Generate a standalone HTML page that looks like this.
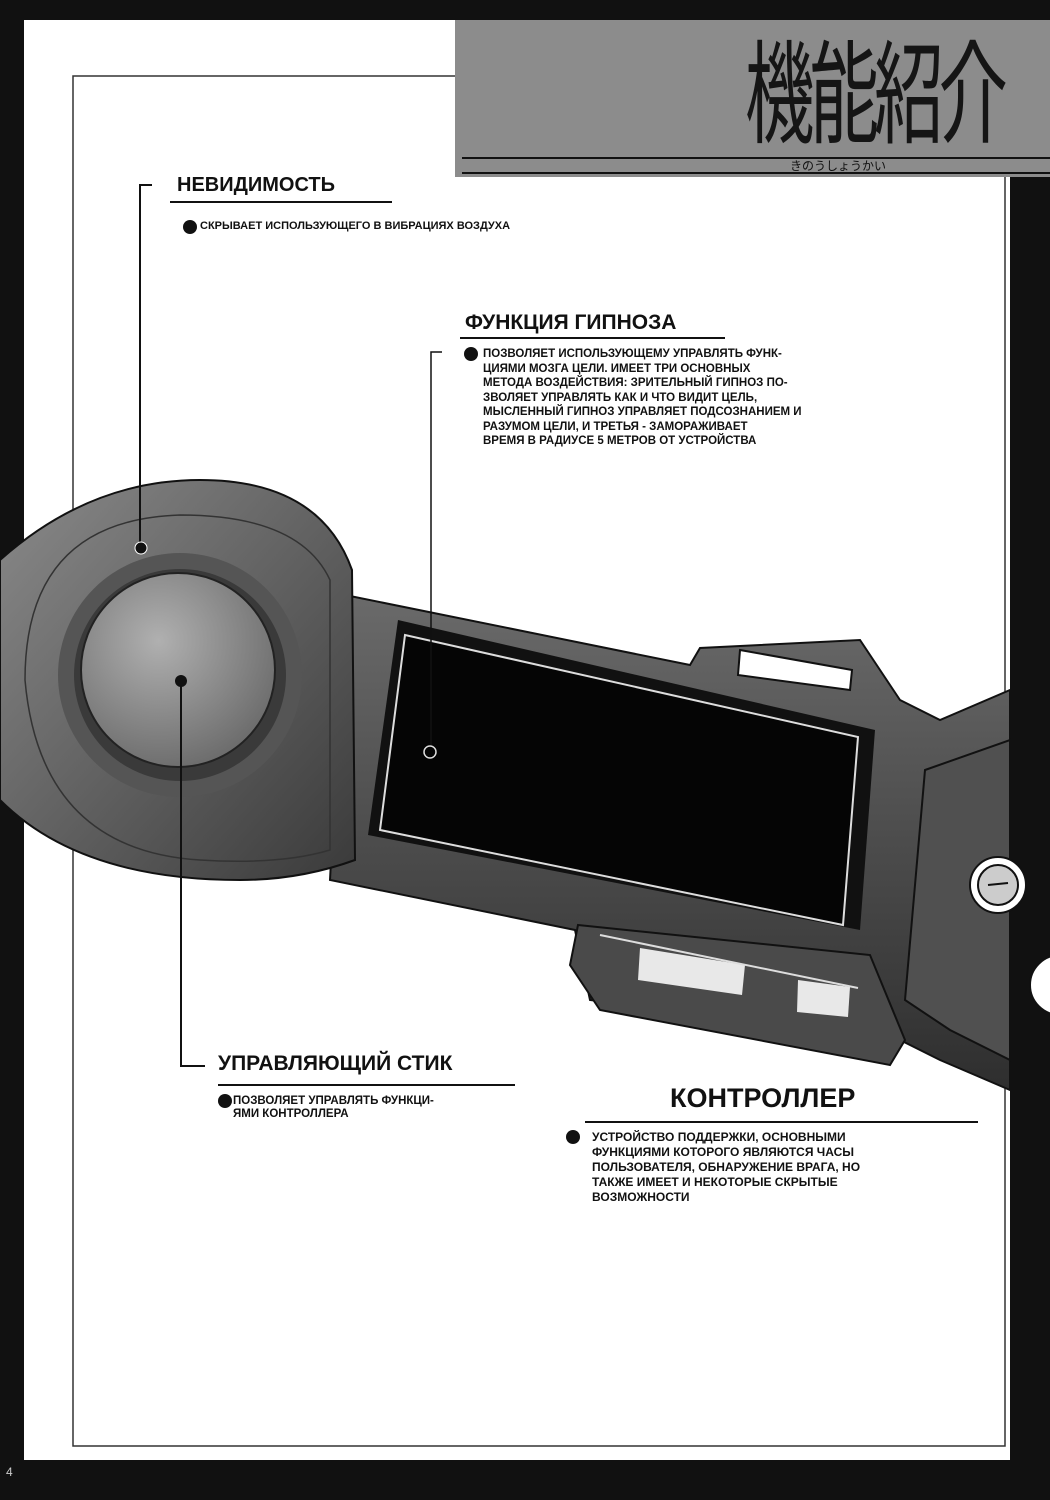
<!DOCTYPE html>
<html><head><meta charset="utf-8"><style>
body{margin:0;width:1050px;height:1500px;background:#111;position:relative;overflow:hidden;font-family:"Liberation Sans","Noto Sans CJK JP",sans-serif}
.t{position:absolute;color:#111;font-weight:bold;text-transform:uppercase;line-height:1}
</style></head><body>
<svg width="1050" height="1500" style="position:absolute;left:0;top:0">
<defs>
<linearGradient id="g1" x1="0" y1="0" x2="1" y2="1"><stop offset="0" stop-color="#8a8a8a"/><stop offset="1" stop-color="#3a3a3a"/></linearGradient>
<linearGradient id="g2" x1="0" y1="0" x2="0" y2="1"><stop offset="0" stop-color="#6a6a6a"/><stop offset="1" stop-color="#2e2e2e"/></linearGradient>
<radialGradient id="g3" cx="0.4" cy="0.35" r="0.7"><stop offset="0" stop-color="#b0b0b0"/><stop offset="1" stop-color="#6a6a6a"/></radialGradient>
</defs>
<rect x="24" y="20" width="990" height="1440" fill="#fff"/>
<rect x="1010" y="175" width="40" height="1300" fill="#111"/>
<rect x="455" y="20" width="595" height="157" fill="#8c8c8c"/>
<line x1="462" y1="158" x2="1050" y2="158" stroke="#111" stroke-width="2"/>
<line x1="462" y1="173" x2="1050" y2="173" stroke="#111" stroke-width="2"/>
<polyline points="455,76 73,76 73,1446 1005,1446 1005,177" fill="none" stroke="#333" stroke-width="1.5"/>
<polygon points="345,595 690,665 700,648 860,640 900,700 940,720 1010,690 1010,1090 940,1060 900,1040 590,1000 575,930 330,880" fill="url(#g2)" stroke="#111" stroke-width="2"/>
<polygon points="740,650 852,670 850,690 738,675" fill="#fff" stroke="#111" stroke-width="2"/>
<polygon points="925,770 1010,740 1010,1060 950,1030 905,1000" fill="#505050" stroke="#111" stroke-width="2"/>
<circle cx="998" cy="885" r="28" fill="#fff" stroke="#111" stroke-width="2"/>
<circle cx="998" cy="885" r="20" fill="#ccc" stroke="#111" stroke-width="2"/>
<line x1="988" y1="885" x2="1008" y2="883" stroke="#111" stroke-width="2"/>
<circle cx="1060" cy="985" r="30" fill="#fff" stroke="#111" stroke-width="2"/>
<polygon points="398,620 875,730 860,930 368,835" fill="#111"/>
<polygon points="405,635 858,737 843,925 380,830" fill="#050505" stroke="#ddd" stroke-width="2"/>
<polygon points="578,925 870,955 905,1040 890,1065 600,1010 570,965" fill="#4a4a4a" stroke="#111" stroke-width="2"/>
<polygon points="640,948 745,965 742,995 638,980" fill="#e8e8e8"/>
<polygon points="798,980 850,987 848,1017 797,1012" fill="#e8e8e8"/>
<line x1="600" y1="935" x2="858" y2="988" stroke="#ddd" stroke-width="2"/>
<path d="M 0,560 Q 90,480 200,480 Q 320,480 352,570 L 355,860 Q 300,880 240,880 Q 80,880 0,800 Z" fill="url(#g1)" stroke="#111" stroke-width="2"/>
<path d="M 25,680 Q 25,520 180,515 Q 300,515 330,580 L 330,850 Q 280,865 200,860 Q 40,850 25,680 Z" fill="none" stroke="#333" stroke-width="1.5"/>
<circle cx="180" cy="675" r="122" fill="#555"/>
<circle cx="180" cy="675" r="106" fill="#3a3a3a"/>
<circle cx="178" cy="670" r="97" fill="url(#g3)" stroke="#222" stroke-width="2"/>
<polyline points="152,185 140,185 140,548" fill="none" stroke="#111" stroke-width="2"/>
<circle cx="141" cy="548" r="6" fill="#111" stroke="#fff" stroke-width="1"/>
<line x1="170" y1="202" x2="392" y2="202" stroke="#111" stroke-width="2"/>
<line x1="460" y1="338" x2="725" y2="338" stroke="#111" stroke-width="2"/>
<polyline points="442,352 431,352 431,746" fill="none" stroke="#111" stroke-width="1.5"/>
<circle cx="430" cy="752" r="6" fill="none" stroke="#ddd" stroke-width="1.5"/>
<circle cx="181" cy="681" r="6" fill="#111"/>
<polyline points="181,681 181,1066 205,1066" fill="none" stroke="#111" stroke-width="2"/>
<line x1="218" y1="1085" x2="515" y2="1085" stroke="#111" stroke-width="2"/>
<line x1="585" y1="1122" x2="978" y2="1122" stroke="#111" stroke-width="2"/>
<circle cx="190" cy="227" r="7" fill="#111"/>
<circle cx="471" cy="354" r="7" fill="#111"/>
<circle cx="225" cy="1101" r="7" fill="#111"/>
<circle cx="573" cy="1137" r="7" fill="#111"/>
</svg>
<div class="t" style="left:745px;top:30px;font-size:112px;font-weight:normal;color:#151515;letter-spacing:-8px;transform:scaleX(0.62);transform-origin:left top;font-family:'Noto Sans CJK JP',sans-serif;width:600px">機能紹介</div>
<div class="t" style="left:790px;top:160px;font-size:12px;font-weight:normal;font-family:'Noto Sans CJK JP',sans-serif">きのうしょうかい</div>
<div class="t" style="left:177px;top:175px;font-size:20px">Невидимость</div>
<div class="t" style="left:200px;top:221px;font-size:11px">скрывает использующего в вибрациях воздуха</div>
<div class="t" style="left:465px;top:312px;font-size:21px">Функция гипноза</div>
<div class="t" style="left:483px;top:347px;font-size:11.5px;line-height:14.5px;width:420px">позволяет использующему управлять функ-<br>циями мозга цели. имеет три основных<br>метода воздействия: зрительный гипноз по-<br>зволяет управлять как и что видит цель,<br>мысленный гипноз управляет подсознанием и<br>разумом цели, и третья - замораживает<br>время в радиусе 5 метров от устройства</div>
<div class="t" style="left:218px;top:1053px;font-size:21px">Управляющий стик</div>
<div class="t" style="left:233px;top:1095px;font-size:11.5px;line-height:13px">позволяет управлять функци-<br>ями контроллера</div>
<div class="t" style="left:670px;top:1085px;font-size:27px">Контроллер</div>
<div class="t" style="left:592px;top:1130px;font-size:12px;line-height:15px">устройство поддержки, основными<br>функциями которого являются часы<br>пользователя, обнаружение врага, но<br>также имеет и некоторые скрытые<br>возможности</div>
<div class="t" style="left:6px;top:1466px;font-size:12px;color:#ccc;font-weight:normal">4</div>
</body></html>
